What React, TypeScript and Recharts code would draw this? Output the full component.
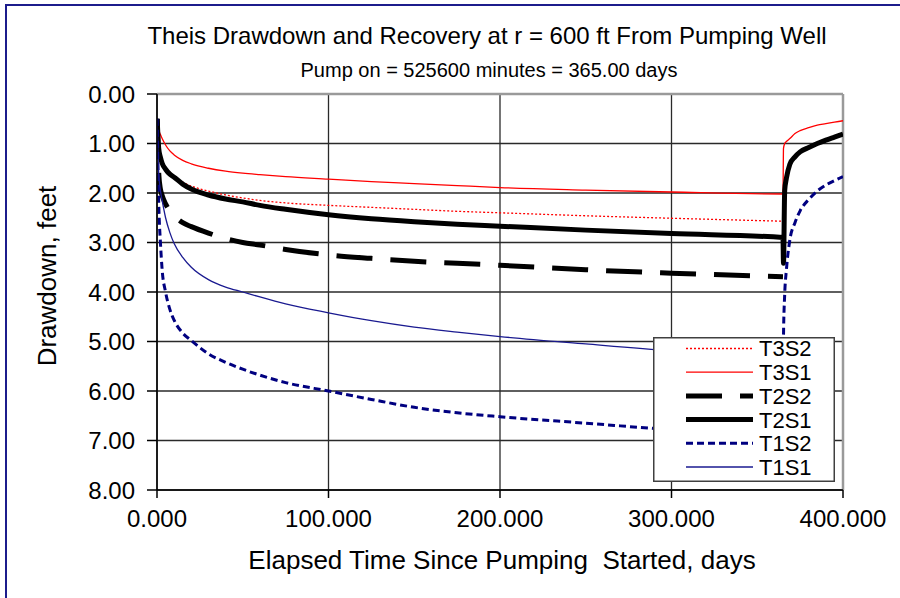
import React from 'react';
import { LineChart, Line, XAxis, YAxis, CartesianGrid, Legend, ReferenceLine } from 'recharts';

// Elapsed time (days) during pumping
const pumpDays = [0.1, 1, 2, 3, 5, 7.5, 10, 15, 20, 30, 40, 50, 60, 75, 100, 125, 150, 175, 200, 250, 300, 365];
// Elapsed time (days) after pump off (recovery)
const recoveryDays = [365.3, 366, 367, 369, 372, 375, 380, 385, 390, 395, 400];

// Drawdown (feet) during pumping
const t3s2 = [0.5, 1.1, 1.25, 1.35, 1.48, 1.58, 1.66, 1.78, 1.86, 1.96, 2.04, 2.1, 2.15, 2.2, 2.25, 2.29, 2.33, 2.37, 2.4, 2.46, 2.51, 2.57];
const t3s1 = [0.5, 0.72, 0.82, 0.9, 1.03, 1.15, 1.23, 1.34, 1.41, 1.5, 1.56, 1.6, 1.63, 1.67, 1.72, 1.77, 1.81, 1.85, 1.89, 1.94, 1.98, 2.02];
const t2s2 = [0.5, 1.6, 1.92, 2.05, 2.22, 2.36, 2.46, 2.6, 2.68, 2.81, 2.92, 3.0, 3.05, 3.14, 3.25, 3.32, 3.38, 3.42, 3.46, 3.55, 3.62, 3.69];
const t2s1 = [0.5, 1.1, 1.28, 1.4, 1.52, 1.62, 1.68, 1.82, 1.92, 2.04, 2.12, 2.18, 2.25, 2.33, 2.44, 2.52, 2.58, 2.63, 2.67, 2.75, 2.82, 2.9];
const t1s2 = [0.5, 2.2, 3.0, 3.55, 4.0, 4.35, 4.57, 4.83, 4.98, 5.25, 5.42, 5.56, 5.68, 5.83, 6.0, 6.17, 6.33, 6.44, 6.52, 6.65, 6.78, 6.88];
const t1s1 = [0.5, 1.6, 1.95, 2.15, 2.5, 2.8, 3.02, 3.3, 3.5, 3.75, 3.9, 4.0, 4.1, 4.24, 4.42, 4.58, 4.71, 4.81, 4.9, 5.05, 5.19, 5.32];

// Drawdown (feet) during recovery
const t3s1Recovery = [1.1, 1.0, 0.96, 0.9, 0.8, 0.74, 0.68, 0.63, 0.6, 0.57, 0.54];
const t2s1Recovery = [3.42, 1.95, 1.7, 1.42, 1.27, 1.17, 1.08, 1.0, 0.93, 0.87, 0.81];
const t1s2Recovery = [4.9, 4.05, 3.55, 2.95, 2.6, 2.36, 2.13, 1.96, 1.84, 1.75, 1.67];

const xTicks = [0, 100, 200, 300, 400];
const yTicks = [0, 1, 2, 3, 4, 5, 6, 7, 8];

const build = (vals: number[], rec?: number[]) => {
  const out = pumpDays.map((t, i) => ({ t, v: vals[i] }));
  if (rec) recoveryDays.forEach((t, i) => out.push({ t, v: rec[i] }));
  return out;
};

const FONT = '"Liberation Sans", Arial, sans-serif';

const series = [
  { name: 'T3S2', color: '#FF0000', width: 1.3, dash: '2 2', data: build(t3s2) },
  { name: 'T3S1', color: '#FF0000', width: 1.3, dash: undefined, data: build(t3s1, t3s1Recovery) },
  { name: 'T2S2', color: '#000000', width: 5, dash: '36 18', data: build(t2s2) },
  { name: 'T2S1', color: '#000000', width: 5, dash: undefined, data: build(t2s1, t2s1Recovery) },
  { name: 'T1S2', color: '#000080', width: 3, dash: '7 4', data: build(t1s2, t1s2Recovery) },
  { name: 'T1S1', color: '#1a1a90', width: 1.3, dash: undefined, data: build(t1s1) },
];

const renderLegend = () => (
  <svg width={182} height={145} style={{ display: 'block' }}>
    <rect x={0.75} y={0.75} width={180.5} height={143.5} fill="#fff" stroke="#404040" strokeWidth={1.5} />
    {series.map((s, i) => {
      const y = 11.5 + i * 23.7;
      return (
        <g key={s.name}>
          <line x1={33} x2={100} y1={y} y2={y} stroke={s.color} strokeWidth={s.width} strokeDasharray={s.dash} />
          <text x={106} y={y} dy="0.36em" fontSize={22} fontFamily={FONT} fill="#000">{s.name}</text>
        </g>
      );
    })}
  </svg>
);

export default function App() {
  return (
    <div style={{ position: 'absolute', left: 0, top: 0, width: 900, height: 598, background: '#fff', fontFamily: FONT, overflow: 'hidden' }}>
      <div style={{ position: 'absolute', left: 5, top: 4, width: 900, height: 600, borderTop: '2px solid #1c1c8c', borderLeft: '2px solid #1c1c8c' }} />
      <LineChart width={900} height={598} margin={{ top: 94, right: 57, bottom: 48, left: 0 }}>
        <CartesianGrid stroke="#2a2a2a" strokeWidth={1.3} />
        <XAxis
          type="number"
          dataKey="t"
          domain={[0, 400]}
          ticks={xTicks}
          allowDataOverflow
          tickFormatter={(v: number) => v.toFixed(3)}
          tick={{ fill: '#000', fontSize: 24, fontFamily: FONT }}
          tickSize={8}
          tickMargin={12}
          height={60}
          stroke="#000"
          strokeWidth={1.5}
        />
        <YAxis
          type="number"
          reversed
          domain={[0, 8]}
          ticks={yTicks}
          allowDataOverflow
          tickFormatter={(v: number) => v.toFixed(2)}
          tick={{ fill: '#000', fontSize: 24, fontFamily: FONT }}
          tickSize={10}
          tickMargin={12}
          width={157}
          stroke="#000"
          strokeWidth={1.5}
        />
        <ReferenceLine y={0} stroke="#9a9a9a" strokeWidth={2.5} />
        <ReferenceLine x={400} stroke="#9a9a9a" strokeWidth={2.5} />
        {series.map((s) => (
          <Line
            key={s.name}
            data={s.data}
            dataKey="v"
            name={s.name}
            type="monotone"
            stroke={s.color}
            strokeWidth={s.width}
            strokeDasharray={s.dash}
            dot={false}
            activeDot={false}
            isAnimationActive={false}
          />
        ))}
        <Legend
          layout="vertical"
          align="center"
          verticalAlign="middle"
          content={renderLegend}
          wrapperStyle={{ left: 653, top: 337, width: 182, height: 145 }}
        />
      </LineChart>
      <div style={{ position: 'absolute', left: 487 - 400, top: 24, width: 800, textAlign: 'center', fontSize: 24, lineHeight: 1, whiteSpace: 'nowrap' }}>
        Theis Drawdown and Recovery at r = 600 ft From Pumping Well
      </div>
      <div style={{ position: 'absolute', left: 489 - 400, top: 60, width: 800, textAlign: 'center', fontSize: 20, lineHeight: 1, whiteSpace: 'nowrap' }}>
        Pump on = 525600 minutes = 365.00 days
      </div>
      <div style={{ position: 'absolute', left: 502 - 400, top: 547, width: 800, textAlign: 'center', fontSize: 26, lineHeight: 1, whiteSpace: 'nowrap' }}>
        Elapsed Time Since Pumping&nbsp; Started, days
      </div>
      <div style={{ position: 'absolute', left: 47 - 150, top: 276 - 13, width: 300, textAlign: 'center', fontSize: 26, lineHeight: 1, whiteSpace: 'nowrap', transform: 'rotate(-90deg)' }}>
        Drawdown, feet
      </div>
    </div>
  );
}
